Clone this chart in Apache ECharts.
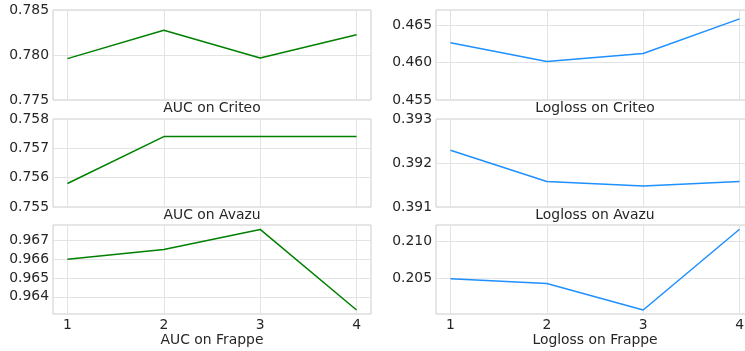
<!DOCTYPE html>
<html>
<head>
<meta charset="utf-8">
<script src="https://cdn.jsdelivr.net/npm/echarts@6/dist/echarts.min.js"></script>
<style>html,body{margin:0;padding:0;background:#fff}#c{width:745px;height:351px}</style>
</head>
<body>
<div id="c"></div>
<script>
// ---- data ----
const steps = [1, 2, 3, 4];
const aucCriteo = [0.77960, 0.78274, 0.77967, 0.78226];
const aucAvazu = [0.75580, 0.75740, 0.75740, 0.75740];
const aucFrappe = [0.96600, 0.96651, 0.96758, 0.96330];
const loglossCriteo = [0.46263, 0.46014, 0.46119, 0.46582];
const loglossAvazu = [0.39229, 0.39158, 0.39148, 0.39158];
const loglossFrappe = [0.20495, 0.20434, 0.20079, 0.21157];

const titles = ['AUC on Criteo', 'Logloss on Criteo', 'AUC on Avazu', 'Logloss on Avazu', 'AUC on Frappe', 'Logloss on Frappe'];
const seriesData = [aucCriteo, loglossCriteo, aucAvazu, loglossAvazu, aucFrappe, loglossFrappe];
const yTicks = [
  [0.775, 0.780, 0.785],
  [0.455, 0.460, 0.465],
  [0.755, 0.756, 0.757, 0.758],
  [0.391, 0.392, 0.393],
  [0.964, 0.965, 0.966, 0.967],
  [0.205, 0.210]
];
const yRanges = [
  [0.775, 0.785],
  [0.455, 0.467],
  [0.755, 0.758],
  [0.391, 0.393],
  [0.963085, 0.967815],
  [0.20026, 0.21214]
];
const xRange = [0.85, 4.15];

// ---- layout ----
const colLeft = [53, 436];
const colWidth = 318;
const rowTop = [10, 119, 225];
const rowHeight = [90, 88, 89];
const colors = ['#008000', '#1e90ff'];
const font = 'DejaVu Sans';
const fs = 13.9;

const grids = [], xAxes = [], yAxes = [], series = [];
for (let i = 0; i < 6; i++) {
  const r = Math.floor(i / 2), c = i % 2;
  const bottomRow = r === 2;
  grids.push({
    left: colLeft[c], width: colWidth, top: rowTop[r], height: rowHeight[r],
    outerBoundsMode: 'none', containLabel: false,
    show: true, borderColor: '#cccccc', borderWidth: 1, backgroundColor: 'transparent'
  });
  xAxes.push({
    gridIndex: i, type: 'value', min: xRange[0], max: xRange[1],
    name: titles[i], nameLocation: 'middle', nameGap: bottomRow ? 18 : 1,
    nameTextStyle: { fontFamily: font, fontSize: fs, color: '#262626', verticalAlign: 'top' },
    axisLine: { show: false },
    axisTick: { show: false, customValues: steps },
    axisLabel: { show: bottomRow, customValues: steps, fontFamily: font, fontSize: fs, color: '#262626', margin: 4 },
    splitLine: { show: true, lineStyle: { color: '#e3e3e3', width: 1 } }
  });
  yAxes.push({
    gridIndex: i, type: 'value', min: yRanges[i][0], max: yRanges[i][1],
    axisLine: { show: false },
    axisTick: { show: false, customValues: yTicks[i] },
    axisLabel: { show: true, customValues: yTicks[i], fontFamily: font, fontSize: fs, color: '#262626', margin: 4,
      formatter: v => v.toFixed(3) },
    splitLine: { show: true, lineStyle: { color: '#e3e3e3', width: 1 } }
  });
  series.push({
    type: 'line', xAxisIndex: i, yAxisIndex: i,
    data: steps.map((s, k) => [s, seriesData[i][k]]),
    showSymbol: false, symbol: 'none',
    lineStyle: { color: colors[c], width: 1.5 },
    itemStyle: { color: colors[c] },
    animation: false, z: 3
  });
}

const chart = echarts.init(document.getElementById('c'), null, { renderer: 'canvas' });
chart.setOption({
  animation: false,
  backgroundColor: '#ffffff',
  grid: grids, xAxis: xAxes, yAxis: yAxes, series: series
});
</script>
</body>
</html>
